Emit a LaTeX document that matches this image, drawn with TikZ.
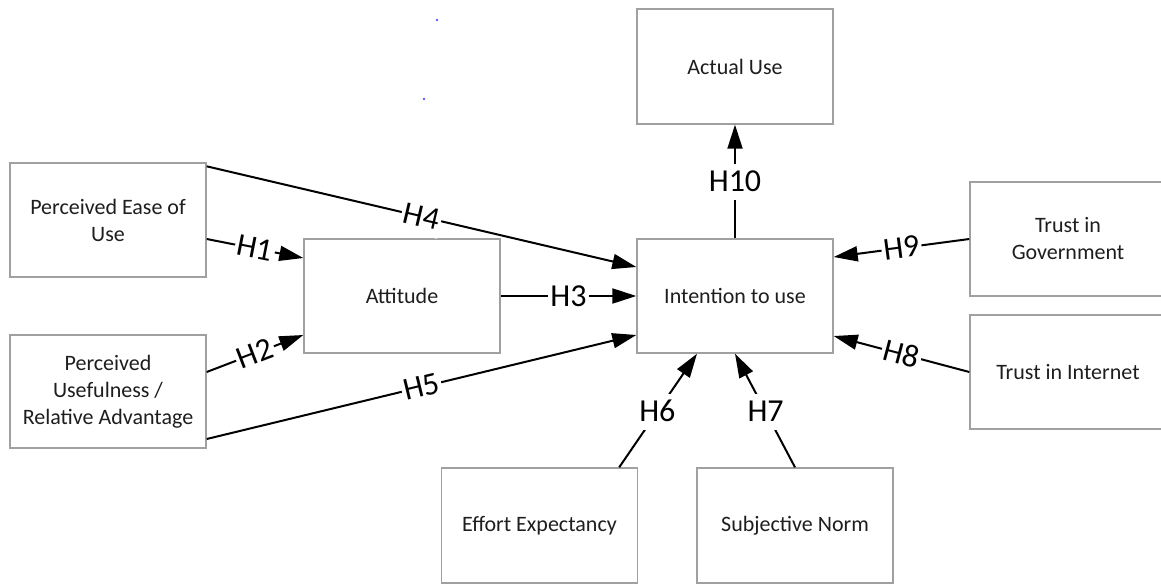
\documentclass[tikz,border=0pt]{standalone}
\usepackage{fontspec}
\setmainfont{Carlito}
\usetikzlibrary{arrows.meta}
\definecolor{boxgray}{HTML}{A0A0A0}
\definecolor{txtgray}{HTML}{1E1E1E}
\definecolor{dotblue}{HTML}{5A5AFF}
\begin{document}
\begin{tikzpicture}[x=1pt,y=-1pt,
  box/.style={draw=boxgray, line width=1.4pt, fill=white, minimum width=196pt, minimum height=114pt, inner sep=0pt, align=center, font=\fontsize{22}{27}\selectfont, text=txtgray},
  conn/.style={line width=2pt, -{Triangle[length=24pt,width=15pt]}},
  hlab/.style={fill=white, inner sep=2pt, text height=26pt, text depth=6pt, font=\fontsize{32}{36}\selectfont},
]
\useasboundingbox (0,0) rectangle (1161,584);

% boxes
\node[box] (peu) at (108,220) {Perceived Ease of\\Use};
\node[box, minimum height=113pt] (pu) at (108,391.5) {Perceived\\Usefulness /\\Relative Advantage};
\node[box] (att) at (402,296) {Attitude};
\node[box] (itu) at (735,296) {Intention to use};
\node[box, minimum height=115pt] (au) at (735,66.5) {Actual Use};
\node[box] (tig) at (1068,239) {Trust in\\Government};
\node[box] (tii) at (1068,372) {Trust in Internet};
\node[box, minimum height=115pt] (ee) at (539.5,525.5) {Effort Expectancy};
\node[box, minimum height=115pt] (sn) at (795,525.5) {Subjective Norm};

% stray dots
\fill[dotblue] (437,20) circle (1.3pt);
\fill[dotblue] (424,99) circle (1.3pt);

% connectors
\draw[conn] ([yshift=-19pt]peu.east) -- node[hlab, sloped]{H1} ([yshift=38pt]att.west);
\draw[conn] ([yshift=-4pt]peu.north east) -- node[hlab, sloped]{H4} ([yshift=29pt]itu.west);
\draw[conn] ([yshift=19.5pt]pu.east) -- node[hlab, sloped]{H2} ([yshift=-39pt]att.west);
\draw[conn] ([yshift=-47.5pt]pu.east) -- node[hlab, sloped]{H5} ([yshift=-39pt]itu.west);
\draw[conn] (att.east) -- node[hlab]{H3} (itu.west);
\draw[conn] (itu.north) -- node[hlab]{H10} (au.south);
\draw[conn] (tig.west) -- node[hlab, sloped]{H9} ([yshift=39pt]itu.east);
\draw[conn] (tii.west) -- node[hlab, sloped]{H8} ([yshift=-40pt]itu.east);
\draw[conn] ([xshift=-19pt]ee.north east) -- node[hlab, pos=0.49]{H6} ([xshift=-38pt]itu.south);
\draw[conn] (sn.north) -- node[hlab, pos=0.49]{H7} (itu.south);
\end{tikzpicture}
\end{document}
